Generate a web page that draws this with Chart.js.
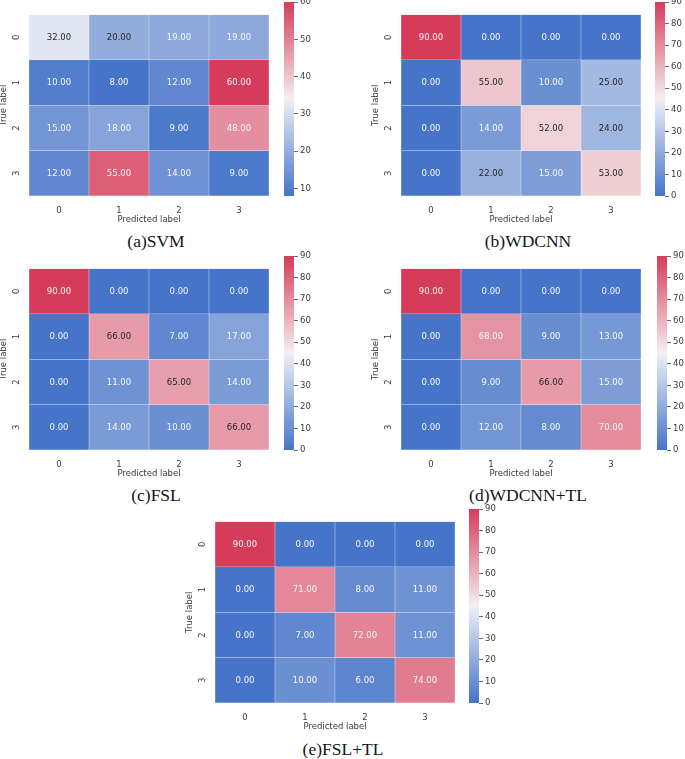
<!DOCTYPE html>
<html><head><meta charset="utf-8">
<script src="https://cdn.jsdelivr.net/npm/chart.js@4.4.1/dist/chart.umd.min.js"></script>
<style>
html,body{margin:0;padding:0;background:#fff;width:685px;height:759px;overflow:hidden;position:relative}
canvas{position:absolute;display:block}
.cap{position:absolute;font-family:"Liberation Serif","DejaVu Serif",serif;font-size:17.5px;color:#151515;transform:translate(-50%,-50%);white-space:nowrap;line-height:1}
</style></head><body>
<script>
// ---- data ----
const classLabels = ['0', '1', '2', '3'];
const svmValues    = [[32,20,19,19],[10,8,12,60],[15,18,9,48],[12,55,14,9]];
const wdcnnValues  = [[90,0,0,0],[0,55,10,25],[0,14,52,24],[0,22,15,53]];
const fslValues    = [[90,0,0,0],[0,66,7,17],[0,11,65,14],[0,14,10,66]];
const wdcnnTlValues= [[90,0,0,0],[0,68,9,13],[0,9,66,15],[0,12,8,70]];
const fslTlValues  = [[90,0,0,0],[0,71,8,11],[0,7,72,11],[0,10,6,74]];
const captions = ['(a)SVM', '(b)WDCNN', '(c)FSL', '(d)WDCNN+TL', '(e)FSL+TL'];
const colorMin = [8, 0, 0, 0, 0];
const colorMax = [60, 90, 90, 90, 90];
const svmBarTicks = [10, 20, 30, 40, 50, 60];
const barTicks = [0, 10, 20, 30, 40, 50, 60, 70, 80, 90];
const xTitle = 'Predicted label';
const yTitle = 'True label';

const matrices = [svmValues, wdcnnValues, fslValues, wdcnnTlValues, fslTlValues];
const tickSets = [svmBarTicks, barTicks, barTicks, barTicks, barTicks];

// ---- layout (pixel placement of each panel) ----
const layoutPos = [
  {hx:29,  hy:2,   cb:284, cx:156, cy:242},
  {hx:401, hy:2,   cb:655, cx:528, cy:242},
  {hx:29,  hy:256, cb:284, cx:156, cy:496},
  {hx:401, hy:256, cb:657, cx:528, cy:496},
  {hx:215, hy:509, cb:469, cx:343, cy:750}
];
const HW = 239.5, HH = 194, CBW = 9.5;

// ---- colormap (seaborn diverging palette, light centre) ----
const BLUE=[70,116,200], BLUE_GRAY=[236,239,245], MID=[242,242,242], RED_GRAY=[245,237,238], RED=[214,60,90];
const STOPS=[[0,BLUE],[127/256,BLUE_GRAY],[128/256,MID],[129/256,RED_GRAY],[1,RED]];
function cmapRGB(t){
  t=Math.max(0,Math.min(1,t));
  for(let i=0;i<STOPS.length-1;i++){
    const [t0,c0]=STOPS[i],[t1,c1]=STOPS[i+1];
    if(t<=t1){const f=(t-t0)/(t1-t0);return c0.map((v,k)=>v+(c1[k]-v)*f);}
  }
  return RED;
}
const rgbStr=c=>`rgb(${c.map(v=>Math.round(v)).join(',')})`;
function lum(c){
  const l=c.map(v=>{v/=255;return v<=0.03928?v/12.92:Math.pow((v+0.055)/1.055,2.4);});
  return 0.2126*l[0]+0.7152*l[1]+0.0722*l[2];
}
const FONT='"DejaVu Sans", sans-serif';
const TXT='#3a3a3a';

function makeCanvas(left,top,w,h){
  const c=document.createElement('canvas');
  c.width=w;c.height=h;c.style.left=left+'px';c.style.top=top+'px';
  c.style.width=w+'px';c.style.height=h+'px';
  document.body.appendChild(c);return c;
}

matrices.forEach((vals,p)=>{
  const L=layoutPos[p], vmin=colorMin[p], vmax=colorMax[p];
  const norm=v=>(v-vmin)/(vmax-vmin);
  // heatmap
  const cw=30+HW+2, ch=2+HH+29;
  const cv=makeCanvas(L.hx-30,L.hy-2,Math.ceil(cw),ch);
  const cellText={id:'cellText',afterDatasetsDraw(chart){
    const {ctx,scales:{x,y}}=chart;
    ctx.save();ctx.font='8.5px '+FONT;ctx.textAlign='center';ctx.textBaseline='middle';
    vals.forEach((row,r)=>row.forEach((v,c)=>{
      const col=cmapRGB(norm(v));
      ctx.fillStyle=lum(col)>0.408?'#262626':'#f8f8f8';
      ctx.fillText(v.toFixed(2),x.getPixelForValue(c),y.getPixelForValue(r+0.5)+0.5);
    }));
    ctx.restore();
  }};
  new Chart(cv,{
    type:'bar',
    data:{labels:classLabels,datasets:vals.map((row,r)=>({
      data:row.map(()=>[r,r+1]),
      backgroundColor:row.map(v=>rgbStr(cmapRGB(norm(v)))),
      borderColor:'rgba(255,255,255,0.3)',borderWidth:0.5,borderSkipped:false,
      barPercentage:1,categoryPercentage:1,grouped:false
    }))},
    options:{
      responsive:false,animation:false,devicePixelRatio:1,
      layout:{padding:{top:2,right:2,left:0,bottom:0}},
      plugins:{legend:{display:false},tooltip:{enabled:false}},
      scales:{
        x:{type:'category',offset:true,grid:{display:false,drawTicks:false},border:{display:false},
          ticks:{color:TXT,font:{size:8.5,family:FONT},padding:10,maxRotation:0},
          title:{display:true,text:xTitle,color:TXT,font:{size:8.5,family:FONT},padding:0},
          afterFit:s=>{s.height=29;}},
        y:{type:'linear',min:0,max:4,reverse:true,grid:{display:false,drawTicks:false},border:{display:false},
          afterBuildTicks:s=>{s.ticks=classLabels.map((_,i)=>({value:i+0.5}));},
          ticks:{color:TXT,font:{size:8.5,family:FONT},padding:9.5,minRotation:90,maxRotation:90,crossAlign:'center',
            callback:(v,i)=>classLabels[i]},
          title:{display:true,text:yTitle,color:TXT,font:{size:8.5,family:FONT,lineHeight:1},padding:{top:0.5}},
          afterFit:s=>{s.width=30;}}
      }
    },
    plugins:[cellText]
  });
  // colorbar
  const bv=makeCanvas(L.cb,L.hy-8,Math.ceil(CBW)+34,HH+16);
  new Chart(bv,{
    type:'bar',
    data:{labels:[''],datasets:[{data:[[vmin,vmax]],
      backgroundColor:(ctx)=>{const ca=ctx.chart.chartArea;if(!ca)return '#fff';
        const g=ctx.chart.ctx.createLinearGradient(0,ca.bottom,0,ca.top);
        STOPS.forEach(([t,c])=>g.addColorStop(t,rgbStr(c)));return g;},
      borderWidth:0,barPercentage:1,categoryPercentage:1}]},
    options:{
      responsive:false,animation:false,devicePixelRatio:1,
      layout:{padding:{top:8,bottom:8,left:0,right:0}},
      plugins:{legend:{display:false},tooltip:{enabled:false}},
      scales:{
        x:{display:false},
        y:{position:'right',min:vmin,max:vmax,
          afterBuildTicks:s=>{s.ticks=tickSets[p].map(v=>({value:v}));},
          grid:{display:true,drawOnChartArea:false,drawTicks:true,tickLength:4,color:'#444',lineWidth:0.8},
          border:{display:false},
          ticks:{color:TXT,font:{size:8.5,family:FONT},padding:2},
          afterFit:s=>{s.width=34;}}
      }
    }
  });
  const cap=document.createElement('div');cap.className='cap';cap.textContent=captions[p];
  cap.style.left=L.cx+'px';cap.style.top=L.cy+'px';document.body.appendChild(cap);
});
</script>
</body></html>
